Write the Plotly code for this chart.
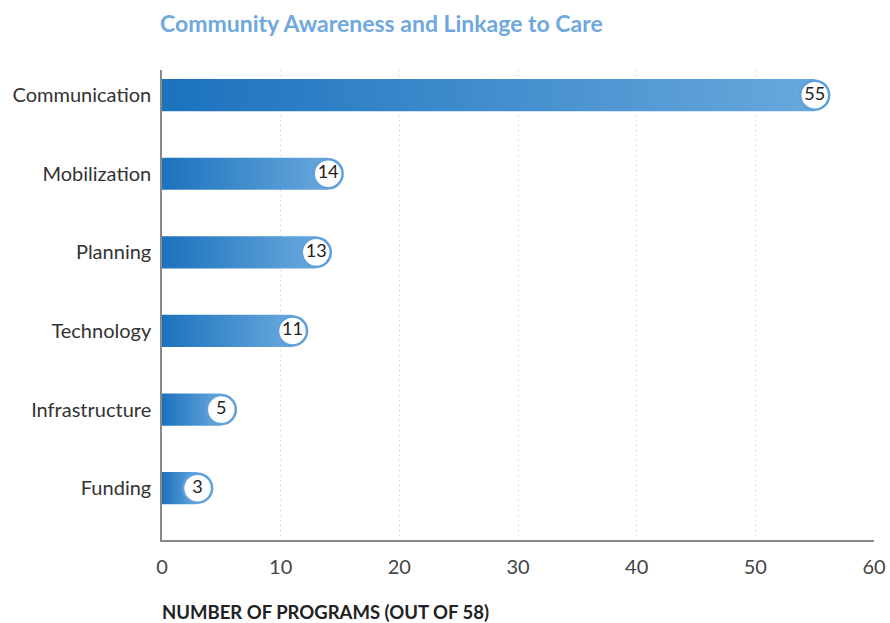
import plotly.graph_objects as go

categories = ["Communication", "Mobilization", "Planning", "Technology", "Infrastructure", "Funding"]
values = [55, 14, 13, 11, 5, 3]
x_ticks = [0, 10, 20, 30, 40, 50, 60]

title_text = "Community Awareness and Linkage to Care"
x_title = "NUMBER OF PROGRAMS (OUT OF 58)"

FONT = "Lato"
DARK = "#1b72bd"
LIGHT = "#68a8dd"
RING = "#5fa0dc"
half = 0.205

n = len(categories)
ypos = [n - 1 - i for i in range(n)]

fig = go.Figure()

for cat, v, y in zip(categories, values, ypos):
    fig.add_trace(go.Scatter(
        x=[0, v, v, 0, 0],
        y=[y - half, y - half, y + half, y + half, y - half],
        mode="lines",
        line=dict(width=0, color=DARK),
        fill="toself",
        fillgradient=dict(type="horizontal", colorscale=[[0, DARK], [1, LIGHT]]),
        hoverinfo="skip",
        name=cat,
        showlegend=False,
    ))

fig.add_trace(go.Scatter(
    x=values,
    y=ypos,
    mode="markers+text",
    marker=dict(size=29, color="white", line=dict(color=RING, width=2.5)),
    text=[str(v) for v in values],
    textposition="middle center",
    textfont=dict(family=FONT, size=18, color="#222222"),
    showlegend=False,
    hovertemplate="%{x}<extra></extra>",
    cliponaxis=False,
))

fig.update_layout(
    width=890, height=623,
    margin=dict(l=162, r=16, t=70, b=83, autoexpand=False),
    paper_bgcolor="white",
    plot_bgcolor="white",
    font=dict(family=FONT, color="#333333"),
    title=dict(
        text="<b>" + title_text + "</b>",
        x=160 / 890, xanchor="left", xref="container",
        y=1 - 24 / 623, yanchor="middle", yref="container",
        font=dict(family=FONT, size=23, color="#6fa8dc"),
    ),
    annotations=[dict(
        text="<b>" + x_title + "</b>",
        xref="paper", yref="paper",
        x=-2 / 712, y=-(612 - 540) / 470,
        xanchor="left", yanchor="middle",
        showarrow=False,
        font=dict(family=FONT, size=18.5, color="#222222"),
    )],
)

fig.update_xaxes(
    range=[0, 60],
    tickvals=x_ticks,
    ticktext=[str(t) for t in x_ticks],
    tickfont=dict(family=FONT, size=20, color="#444444"),
    showgrid=True, gridcolor="#c4c4c4", griddash="1px,4px", gridwidth=1,
    showline=True, linecolor="#888888", linewidth=1.5,
    zeroline=False, automargin=False,
    ticks="", ticklabelstandoff=8,
)
fig.update_yaxes(
    range=[-0.66, 5.32],
    tickvals=ypos,
    ticktext=categories,
    tickfont=dict(family=FONT, size=20, color="#333333"),
    showgrid=False,
    showline=True, linecolor="#888888", linewidth=1.5,
    zeroline=False, automargin=False,
    ticks="", ticklabelstandoff=5,
)

fig.write_html("out.html", config={"displayModeBar": False},
               post_script="document.body.style.margin='0px';")
